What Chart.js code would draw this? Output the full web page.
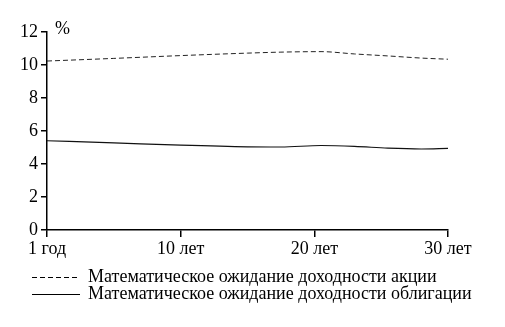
<!DOCTYPE html>
<html>
<head>
<meta charset="utf-8">
<script src="https://cdn.jsdelivr.net/npm/chart.js@4/dist/chart.umd.min.js"></script>
<style>
    html, body { margin: 0; padding: 0; background: #fff; }
    #wrap { width: 505px; height: 327px; }
</style>
</head>
<body>
<div id="wrap"><canvas id="yieldChart" width="505" height="327"></canvas></div>
<script>
    // positions along the horizon axis (0 = 1 год, 30 = 30 лет)
    var horizon = [0, 5, 10, 15, 17.5, 20.5, 23, 25.5, 28, 30];
    var tickLabels = {0: '1 год', 10: '10 лет', 20: '20 лет', 30: '30 лет'};
    var stockYield = [10.24, 10.40, 10.57, 10.72, 10.78, 10.81, 10.67, 10.55, 10.42, 10.35];
    var bondYield = [5.41, 5.28, 5.14, 5.04, 5.03, 5.12, 5.07, 4.96, 4.91, 4.95];
    var seriesNames = [
        'Математическое ожидание доходности акции',
        'Математическое ожидание доходности облигации'
    ];
    var unitLabel = '%';

    var FONT = "'Liberation Serif', 'Times New Roman', serif";

    function toPoints(values) {
        var pts = [];
        for (var j = 0; j < values.length; j++) {
            pts.push({x: horizon[j], y: values[j]});
        }
        return pts;
    }

    // legend under the axis + "%" over the y axis
    var extras = {
        id: 'extras',
        afterDraw: function (chart) {
            var ctx = chart.ctx;
            var area = chart.chartArea;
            ctx.save();
            ctx.fillStyle = '#000';
            ctx.textBaseline = 'middle';
            ctx.textAlign = 'left';
            ctx.font = '18px ' + FONT;
            ctx.fillText(unitLabel, area.left + 8, area.top - 3);

            var rows = [277, 294];
            chart.data.datasets.forEach(function (ds, i) {
                ctx.beginPath();
                ctx.strokeStyle = '#000';
                ctx.lineWidth = 1;
                ctx.setLineDash(ds.borderDash || []);
                ctx.moveTo(32, rows[i] + 0.5);
                ctx.lineTo(80, rows[i] + 0.5);
                ctx.stroke();
                ctx.setLineDash([]);
                ctx.fillText(ds.label, 88, rows[i]);
            });
            ctx.restore();
        }
    };

    var ctx = document.getElementById('yieldChart').getContext('2d');
    var chart = new Chart(ctx, {
        type: 'line',
        data: {
            datasets: [{
                label: seriesNames[0],
                data: toPoints(stockYield),
                borderColor: '#222',
                borderWidth: 1,
                borderDash: [5, 3],
                pointRadius: 0,
                cubicInterpolationMode: 'monotone',
                fill: false
            }, {
                label: seriesNames[1],
                data: toPoints(bondYield),
                borderColor: '#111',
                borderWidth: 1.2,
                pointRadius: 0,
                cubicInterpolationMode: 'monotone',
                fill: false
            }]
        },
        options: {
            responsive: false,
            animation: false,
            layout: {
                padding: {left: 0, right: 57, top: 32, bottom: 0}
            },
            plugins: {
                legend: {display: false},
                tooltip: {enabled: false}
            },
            scales: {
                x: {
                    type: 'linear',
                    min: 0,
                    max: 30,
                    afterFit: function (scale) { scale.height = 97; },
                    afterBuildTicks: function (scale) {
                        scale.ticks = [{value: 0}, {value: 10}, {value: 20}, {value: 30}];
                    },
                    border: {color: '#000', width: 1.5},
                    grid: {
                        drawOnChartArea: false,
                        drawTicks: true,
                        tickLength: 7,
                        color: '#000',
                        lineWidth: 1.5
                    },
                    ticks: {
                        callback: function (v) { return tickLabels[v]; },
                        color: '#000',
                        padding: 1,
                        maxRotation: 0,
                        autoSkip: false,
                        font: {family: FONT, size: 18}
                    }
                },
                y: {
                    min: 0,
                    max: 12,
                    afterFit: function (scale) { scale.width = 47; },
                    border: {color: '#000', width: 1.5},
                    grid: {
                        drawOnChartArea: false,
                        drawTicks: true,
                        tickLength: 6,
                        color: '#000',
                        lineWidth: 1.5
                    },
                    ticks: {
                        stepSize: 2,
                        color: '#000',
                        padding: 3,
                        font: {family: FONT, size: 18}
                    }
                }
            }
        },
        plugins: [extras]
    });
</script>
</body>
</html>
